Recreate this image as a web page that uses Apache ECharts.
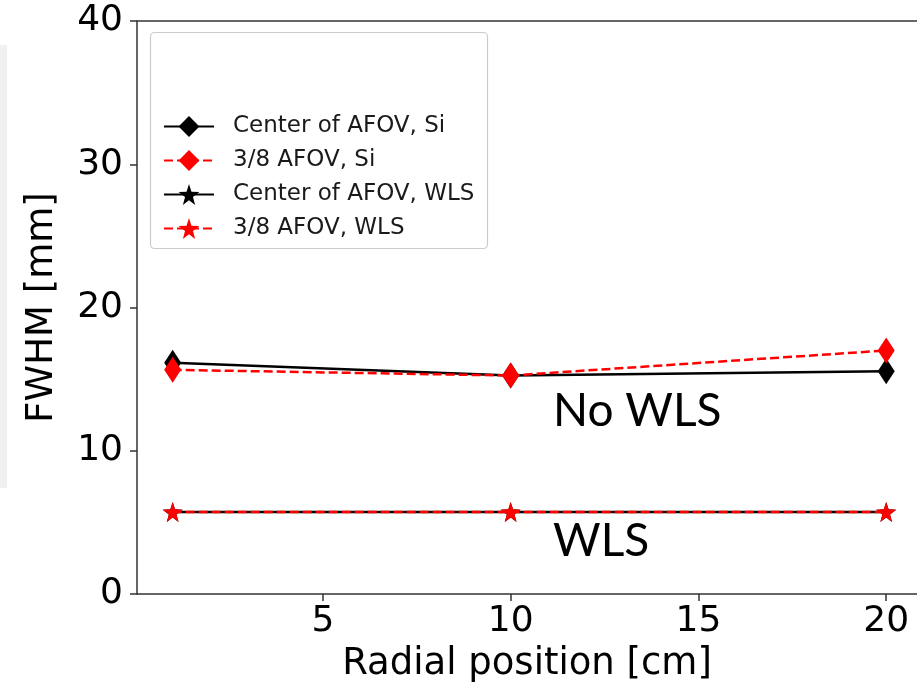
<!DOCTYPE html>
<html>
<head>
<meta charset="utf-8">
<script src="https://cdn.jsdelivr.net/npm/echarts@6/dist/echarts.min.js"></script>
<style>
  html, body { margin: 0; padding: 0; background: #fff; }
  #chart { width: 917px; height: 692px; }
</style>
</head>
<body>
<div id="chart"></div>
<script>
// Radial positions (cm) at which FWHM was measured
const radialPositions = [1, 10, 20];

// FWHM values (mm)
const centerSi = [16.15, 15.25, 15.55];
const eighthSi = [15.65, 15.25, 17.0];
const centerWls = [5.72, 5.72, 5.72];
const eighthWls = [5.72, 5.72, 5.72];

const seriesNames = [
  'Center of AFOV, Si',
  '3/8 AFOV, Si',
  'Center of AFOV, WLS',
  '3/8 AFOV, WLS'
];

const xTicks = [5, 10, 15, 20];
const yTicks = [0, 10, 20, 30, 40];

const starPath = 'path://M50,0 L61.8,36.2 L100,38.2 L69.1,61.8 L79.4,100 L50,77.6 L20.6,100 L30.9,61.8 L0,38.2 L38.2,36.2 Z';

function pairs(values) {
  return radialPositions.map((x, i) => [x, values[i]]);
}

const chart = echarts.init(document.getElementById('chart'), null, { renderer: 'canvas' });

const axisFont = 'DejaVu Sans';

chart.setOption({
  animation: false,
  backgroundColor: '#fff',
  grid: { left: 137, right: 0, top: 21, bottom: 98, containLabel: false },
  xAxis: {
    type: 'value',
    min: 0.05,
    max: 20.82,
    name: 'Radial position [cm]',
    nameLocation: 'middle',
    nameGap: 52,
    nameTextStyle: { fontFamily: axisFont, fontSize: 37, color: '#000' },
    axisLine: { show: true, onZero: false, lineStyle: { color: '#333', width: 1.5 } },
    axisTick: { show: true, length: 7, inside: false, customValues: xTicks, lineStyle: { color: '#333', width: 1.5 } },
    axisLabel: { customValues: xTicks, fontFamily: axisFont, fontSize: 36, color: '#000', margin: 10 },
    splitLine: { show: false }
  },
  yAxis: {
    type: 'value',
    min: yTicks[0],
    max: yTicks[yTicks.length - 1],
    interval: 10,
    name: 'FWHM [mm]',
    nameLocation: 'middle',
    nameGap: 76,
    nameTextStyle: { fontFamily: axisFont, fontSize: 37, color: '#000' },
    axisLine: { show: true, lineStyle: { color: '#333', width: 1.5 } },
    axisTick: { show: true, length: 7, lineStyle: { color: '#333', width: 1.5 } },
    axisLabel: { fontFamily: axisFont, fontSize: 36, color: '#000', margin: 14 },
    splitLine: { show: false }
  },
  legend: {
    left: 158,
    top: 110,
    orient: 'vertical',
    itemWidth: 50,
    itemHeight: 26,
    itemGap: 8 + 3,
    z: 20,
    textStyle: { fontFamily: axisFont, fontSize: 23, color: '#1a1a1a', padding: [0, 0, 0, 14] },
    data: seriesNames
  },
  graphic: [
    // faint strip at the far left edge
    { type: 'rect', z: 0, shape: { x: 0, y: 45, width: 7, height: 443 }, style: { fill: '#f0f0f0' } },
    // legend frame
    {
      type: 'rect', z: 10,
      shape: { x: 150.5, y: 32.5, width: 337, height: 216, r: 4 },
      style: { fill: '#ffffff', stroke: '#cccccc', lineWidth: 1.2 }
    },
    // top spine of the plot box
    { type: 'line', z: 5, shape: { x1: 137, y1: 21, x2: 917, y2: 21 }, style: { stroke: '#333', lineWidth: 1.5 } },
    {
      type: 'text', z: 15, left: 553, top: 388,
      style: { text: 'No WLS', fontFamily: 'Lato', fontSize: 46, fill: '#000' }
    },
    {
      type: 'text', z: 15, left: 553, top: 518,
      style: { text: 'WLS', fontFamily: 'Lato', fontSize: 46, fill: '#000' }
    }
  ],
  series: [
    {
      name: seriesNames[0],
      type: 'line',
      data: pairs(centerSi),
      symbol: 'diamond',
      symbolSize: [17, 26],
      itemStyle: { color: '#000' },
      lineStyle: { color: '#000', width: 2.5, type: 'solid' },
      z: 2
    },
    {
      name: seriesNames[1],
      type: 'line',
      data: pairs(eighthSi),
      symbol: 'diamond',
      symbolSize: [17, 26],
      itemStyle: { color: '#ff0000' },
      lineStyle: { color: '#ff0000', width: 2.5, type: [9, 4] },
      z: 3
    },
    {
      name: seriesNames[2],
      type: 'line',
      data: pairs(centerWls),
      symbol: starPath,
      symbolSize: 20,
      itemStyle: { color: '#000' },
      lineStyle: { color: '#000', width: 2.5, type: 'solid' },
      z: 4
    },
    {
      name: seriesNames[3],
      type: 'line',
      data: pairs(eighthWls),
      symbol: starPath,
      symbolSize: 20,
      itemStyle: { color: '#ff0000' },
      lineStyle: { color: '#ff0000', width: 2.5, type: [9, 4] },
      z: 5
    }
  ]
});
</script>
</body>
</html>
